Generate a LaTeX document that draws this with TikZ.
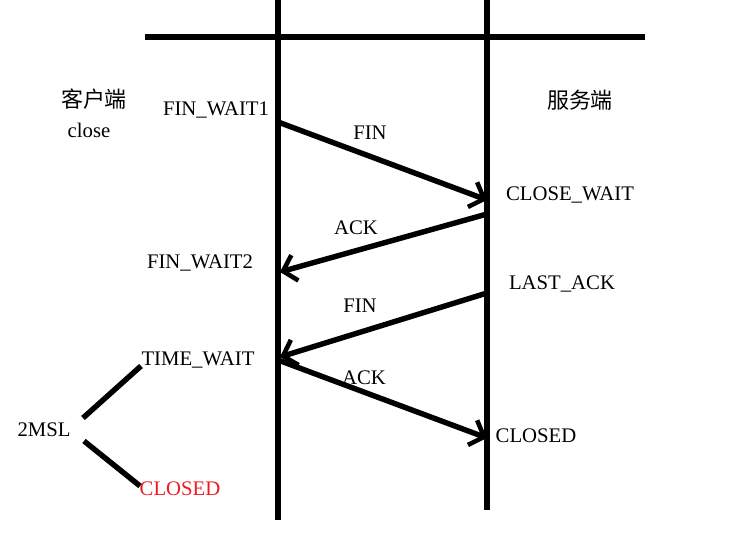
\documentclass[tikz,border=0pt]{standalone}
\usepackage{fontspec}
\setmainfont{Liberation Serif}
\newfontfamily\cjkfont{Noto Sans CJK SC}
\usetikzlibrary{arrows.meta, positioning}
\definecolor{closedred}{RGB}{237,28,36}
\tikzset{
  label/.style={
    inner sep=1pt,
    font=\fontsize{11.8}{13}\selectfont,
  },
  cjklabel/.style={
    label,
    font=\cjkfont\fontsize{12.5}{14}\selectfont
  },
  line/.style={
    line width=3.1pt
  },
  msg/.style={
    line width=3.1pt,
    -{Straight Barb[length=7pt,width=15pt,line width=2.6pt]}
  }
}
\begin{document}
\begin{tikzpicture}[x=0.02cm, y=-0.02cm]
\useasboundingbox (0,0) rectangle (752,551);

% --- Lignes de vie ---
\coordinate (ctop) at (278,0);
\coordinate (cbot) at (278,520);
\coordinate (stop) at (487,0);
\coordinate (sbot) at (487,510);
\coordinate (hl) at (145,37);
\coordinate (hr) at (645,37);
\draw[line] (ctop) -- (cbot);
\draw[line] (stop) -- (sbot);
\draw[line] (hl) -- (hr);

% --- Points des messages ---
\coordinate (c1) at (278,122);
\coordinate (s1) at (487,200);
\coordinate (s2) at (487,214);
\coordinate (c2) at (280,272);
\coordinate (s3) at (487,293);
\coordinate (c3) at (280,357);
\coordinate (c4) at (278,360);
\coordinate (s4) at (487,438);

\draw[msg] (c1) -- (s1);
\draw[msg] (s2) -- (c2);
\draw[msg] (s3) -- (c3);
\draw[msg] (c4) -- (s4);

% --- Labels des messages ---
\node[label] (fin1) at (370,133) {FIN};
\node[label] (ack1) at (356,228) {ACK};
\node[label] (fin2) at (360,306) {FIN};
\node[label] (ack2) at (364,378) {ACK};

% --- Etats ---
\node[cjklabel] (client) at (94,99) {客户端};
\node[label] (close) at (89,130) {close};
\node[cjklabel] (server) at (580,100) {服务端};
\node[label] (fw1) at (216,110) {FIN\_WAIT1};
\node[label] (cw) at (570,195) {CLOSE\_WAIT};
\node[label] (fw2) at (200,263) {FIN\_WAIT2};
\node[label] (la) at (562,284) {LAST\_ACK};
\node[label] (tw) at (198,360) {TIME\_WAIT};
\node[label] (sclosed) at (536,436) {CLOSED};
\node[label] (msl) at (44,430) {2MSL};
\node[label, text=closedred] (cclosed) at (180,489) {CLOSED};

% --- 2MSL ---
\coordinate (m1) at (83,418);
\coordinate (m2) at (141,366);
\coordinate (m3) at (84,441);
\coordinate (m4) at (140,486);
\draw[line] (m1) -- (m2);
\draw[line] (m3) -- (m4);

\end{tikzpicture}
\end{document}
